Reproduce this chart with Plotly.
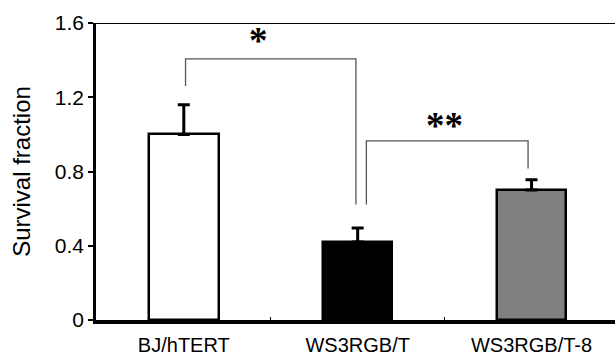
import plotly.graph_objects as go

# ---- data ----
categories = ["BJ/hTERT", "WS3RGB/T", "WS3RGB/T-8"]
positions = [0, 1, 2]
survival = [1.0, 0.42, 0.70]
sem = [0.16, 0.075, 0.055]
bar_colors = ["white", "black", "#808080"]

# significance brackets (x in category units, y in data units)
bracket1_x = [0.01, 0.01, 0.99, 0.99]
bracket1_y = [1.26, 1.407, 1.407, 0.622]
bracket2_x = [1.05, 1.05, 1.98, 1.98]
bracket2_y = [0.622, 0.965, 0.965, 0.816]
sig_labels = ["*", "**"]
sig_x = [0.43, 1.50]
sig_y = [1.53, 1.075]

y_ticks = [0, 0.4, 0.8, 1.2, 1.6]
y_ticktext = ["0", "0.4", "0.8", "1.2", "1.6"]

fig = go.Figure()

fig.add_trace(go.Bar(
    x=positions, y=survival, width=0.40,
    marker=dict(color=bar_colors, line=dict(color="black", width=2.5)),
    error_y=dict(type="data", symmetric=False, array=sem,
                 arrayminus=[0] * len(sem), color="black",
                 thickness=3, width=6),
    showlegend=False, hoverinfo="skip",
))

for bx, by in [(bracket1_x, bracket1_y), (bracket2_x, bracket2_y)]:
    fig.add_trace(go.Scatter(
        x=bx, y=by, mode="lines",
        line=dict(color="#555555", width=1.3),
        showlegend=False, hoverinfo="skip",
    ))

for t, sx, sy in zip(sig_labels, sig_x, sig_y):
    fig.add_annotation(x=sx, y=sy, text="<b>" + t + "</b>", showarrow=False,
                       font=dict(family="Liberation Serif", size=37, color="black"),
                       xanchor="center", yanchor="middle", yshift=-5)

fig.add_shape(type="line", xref="paper", yref="y", x0=0, x1=1, y0=1.6, y1=1.6,
              line=dict(color="black", width=2))

fig.update_layout(
    width=615, height=356,
    margin=dict(l=96, r=0, t=23, b=36),
    paper_bgcolor="white", plot_bgcolor="white",
    font=dict(family="Liberation Sans, Arial, sans-serif", color="black"),
    bargap=0,
)
fig.update_xaxes(
    range=[-0.505, 2.48], showgrid=False, zeroline=False,
    showline=True, linecolor="black", linewidth=4,
    tickvals=positions, ticktext=categories, ticks="", ticklen=0,
    tickfont=dict(size=20, color="black"), ticklabelstandoff=4,
    minor=dict(tickvals=[0.5, 1.5], ticks="inside", ticklen=3,
               tickwidth=1, tickcolor="black"),
)
fig.update_yaxes(
    range=[0, 1.6], showgrid=False, zeroline=False,
    showline=True, linecolor="black", linewidth=2.5,
    tickvals=y_ticks, ticktext=y_ticktext,
    ticks="outside", ticklen=5, tickwidth=1.5, tickcolor="black",
    tickfont=dict(size=21, color="black"),
    title=dict(text="Survival fraction", font=dict(size=24, color="black"),
               standoff=18),
)

fig.write_html("out.html", config={"displayModeBar": False},
               post_script="document.body.style.margin='0';")
